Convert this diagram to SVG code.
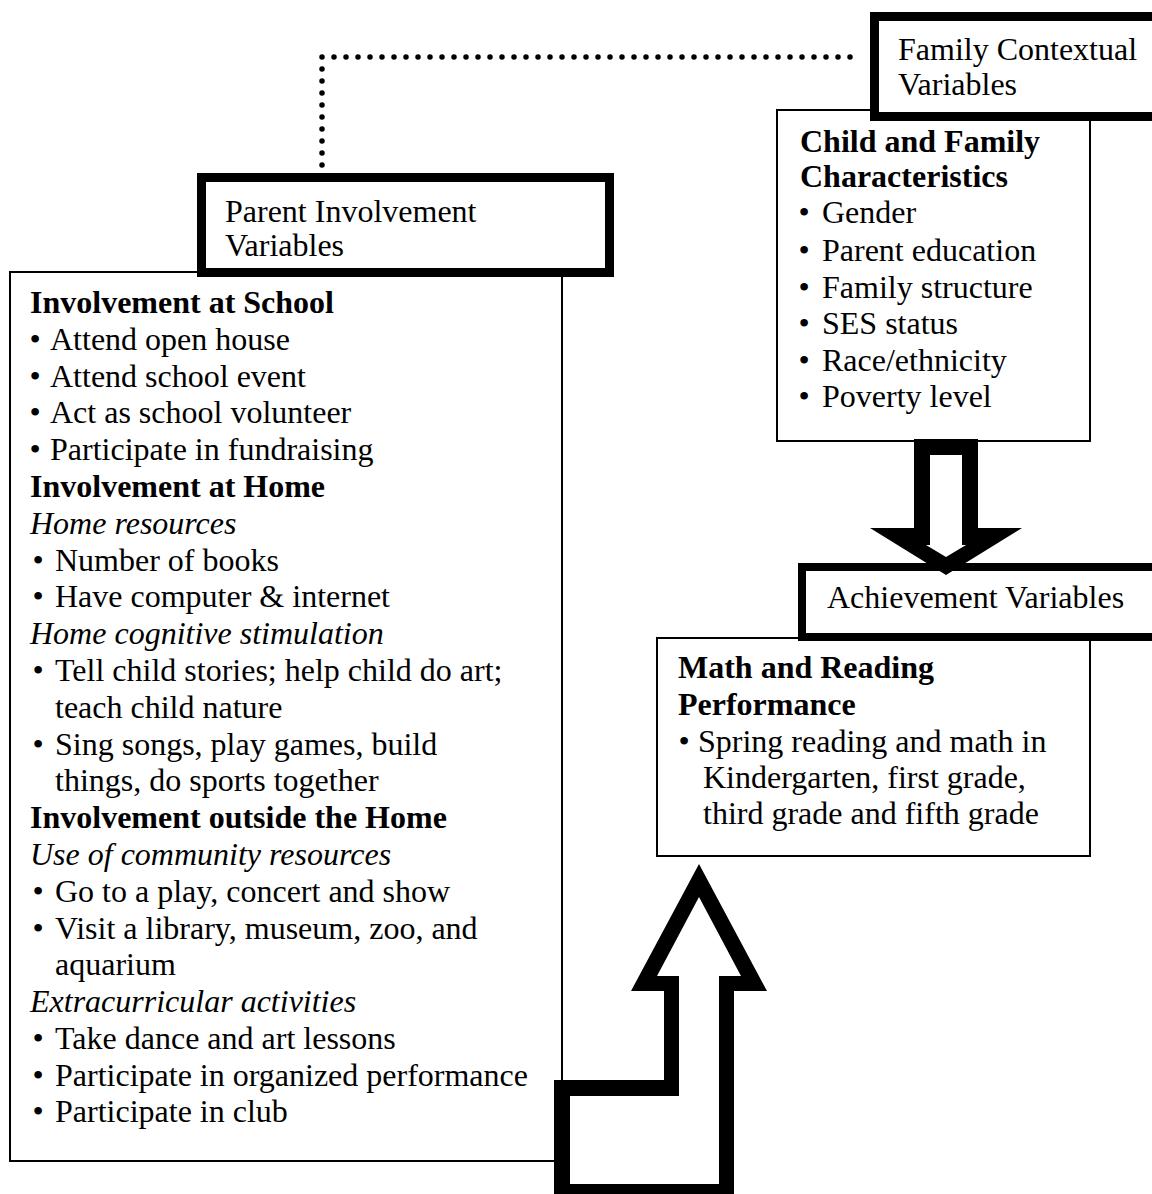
<svg xmlns="http://www.w3.org/2000/svg" width="1152" height="1194" viewBox="0 0 1152 1194">
  <style>
    text { font-family: "Liberation Serif", "Times New Roman", serif; font-size: 32px; fill: #000; }
    .b { font-weight: bold; }
    .i { font-style: italic; }
    .bul { text-anchor: middle; }
    .thin { fill: #fff; stroke: #000; stroke-width: 2; }
    .thick { fill: #fff; stroke: #000; stroke-width: 9; }
    .dots { fill: none; stroke: #000; stroke-width: 5.5; stroke-linecap: round; stroke-dasharray: 0 12; }
    .block { fill: #000; fill-rule: evenodd; stroke: none; }
  </style>
  <rect width="1152" height="1194" fill="#fff"/>

  <!-- Parent involvement: detail list + heading tab -->
  <g id="parent-involvement">
    <rect class="thin" x="10" y="272" width="552" height="889"/>
    <text class="b" x="30" y="313">Involvement at School</text>
    <text class="bul" x="35" y="350">•</text><text x="50" y="350">Attend open house</text>
    <text class="bul" x="35" y="387">•</text><text x="50" y="387">Attend school event</text>
    <text class="bul" x="35" y="423">•</text><text x="50" y="423">Act as school volunteer</text>
    <text class="bul" x="35" y="460">•</text><text x="50" y="460">Participate in fundraising</text>
    <text class="b" x="30" y="497">Involvement at Home</text>
    <text class="i" x="30" y="534">Home resources</text>
    <text class="bul" x="38" y="571">•</text><text x="55" y="571">Number of books</text>
    <text class="bul" x="38" y="607">•</text><text x="55" y="607">Have computer &amp; internet</text>
    <text class="i" x="30" y="644">Home cognitive stimulation</text>
    <text class="bul" x="38" y="681">•</text><text x="55" y="681">Tell child stories; help child do art;</text>
    <text x="55" y="718">teach child nature</text>
    <text class="bul" x="38" y="755">•</text><text x="55" y="755">Sing songs, play games, build</text>
    <text x="55" y="791">things, do sports together</text>
    <text class="b" x="30" y="828">Involvement outside the Home</text>
    <text class="i" x="30" y="865">Use of community resources</text>
    <text class="bul" x="38" y="902">•</text><text x="55" y="902">Go to a play, concert and show</text>
    <text class="bul" x="38" y="939">•</text><text x="55" y="939">Visit a library, museum, zoo, and</text>
    <text x="55" y="975">aquarium</text>
    <text class="i" x="30" y="1012">Extracurricular activities</text>
    <text class="bul" x="38" y="1049">•</text><text x="55" y="1049">Take dance and art lessons</text>
    <text class="bul" x="38" y="1086">•</text><text x="55" y="1086">Participate in organized performance</text>
    <text class="bul" x="38" y="1122">•</text><text x="55" y="1122">Participate in club</text>

    <rect class="thick" x="201.5" y="177.5" width="408" height="95"/>
    <text x="225" y="222">Parent Involvement</text>
    <text x="225" y="256">Variables</text>
  </g>

  <!-- Family contextual: characteristics list + heading tab -->
  <g id="family-contextual">
    <rect class="thin" x="777" y="110" width="313" height="331"/>
    <text class="b" x="800" y="152">Child and Family</text>
    <text class="b" x="800" y="187">Characteristics</text>
    <text class="bul" x="804" y="223">•</text><text x="822" y="223">Gender</text>
    <text class="bul" x="804" y="261">•</text><text x="822" y="261">Parent education</text>
    <text class="bul" x="804" y="298">•</text><text x="822" y="298">Family structure</text>
    <text class="bul" x="804" y="334">•</text><text x="822" y="334">SES status</text>
    <text class="bul" x="804" y="371">•</text><text x="822" y="371">Race/ethnicity</text>
    <text class="bul" x="804" y="407">•</text><text x="822" y="407">Poverty level</text>

    <rect class="thick" x="874.5" y="16.5" width="300" height="100"/>
    <text x="898" y="60">Family Contextual</text>
    <text x="898" y="95">Variables</text>
  </g>

  <!-- Achievement: performance box + heading tab -->
  <g id="achievement">
    <rect class="thin" x="657" y="638" width="433" height="218"/>
    <text class="b" x="678" y="678">Math and Reading</text>
    <text class="b" x="678" y="715">Performance</text>
    <text class="bul" x="684" y="752">•</text><text x="698" y="752">Spring reading and math in</text>
    <text x="703" y="788">Kindergarten, first grade,</text>
    <text x="703" y="824">third grade and fifth grade</text>

    <rect class="thick" x="802" y="567" width="400" height="70" style="stroke-width:8"/>
    <text x="827" y="608">Achievement Variables</text>
  </g>

  <!-- Connectors -->
  <g id="connectors">
    <path class="dots" d="M322,165 V57 H862"/>
    <path fill="#fff" d="M930,455 V545 H926 L946,557 L966,545 H962 V455 Z"/>
    <path class="block" d="M914,439 H978 V528 H1022 L946,575 L870,528 H914 Z M930,455 V545 H926 L946,557 L966,545 H962 V455 Z"/>
    <path fill="#fff" d="M699,897 L657,976 H679 V1096 H570 V1184 H719 V976 H741 Z"/>
    <path class="block" d="M699,864 L767,991 H734 V1194 H554 V1080 H664 V991 H631 Z M699,897 L657,976 H679 V1096 H570 V1184 H719 V976 H741 Z"/>
  </g>
</svg>
